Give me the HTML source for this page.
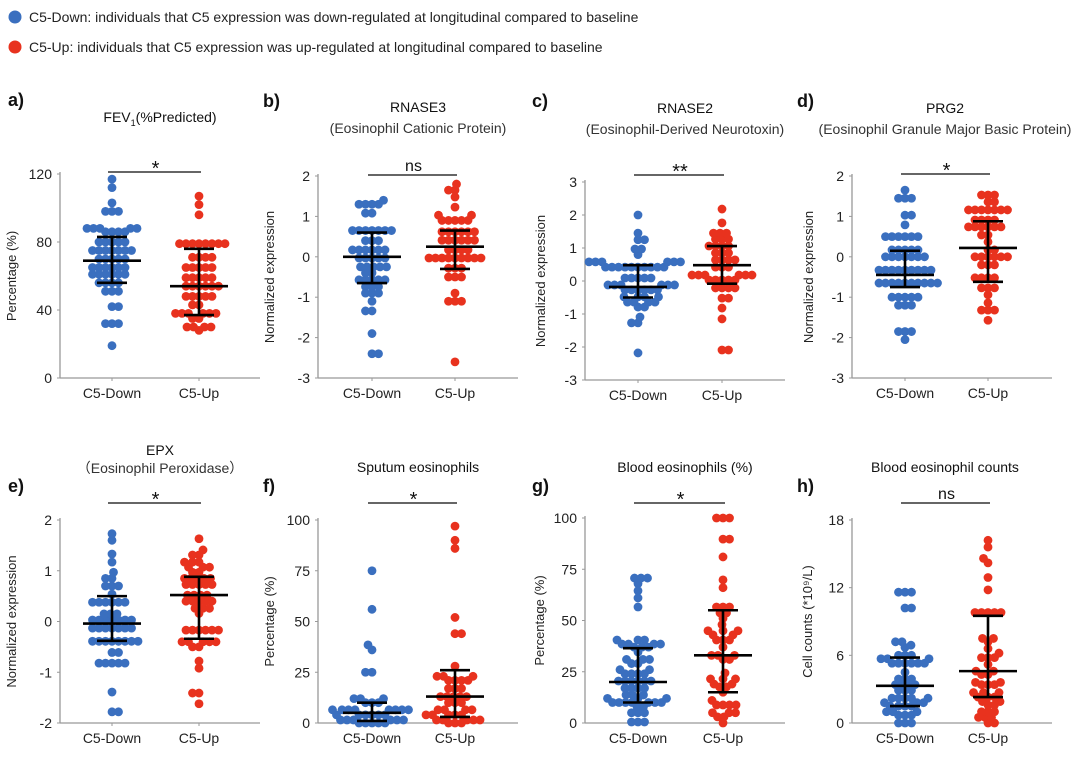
<!DOCTYPE html>
<html><head><meta charset="utf-8"><style>
body{margin:0;background:#fff}
svg{display:block;font-family:"Liberation Sans",sans-serif}
</style></head><body>
<svg id="fig" width="1080" height="764" viewBox="0 0 1080 764">
<g>
<circle cx="15" cy="17" r="6.5" fill="#3a6fbf"/>
<text x="29" y="22" font-size="14" fill="#222">C5-Down: individuals that C5 expression was down-regulated at longitudinal compared to baseline</text>
<circle cx="15" cy="47" r="6.5" fill="#e8321e"/>
<text x="29" y="52" font-size="14" fill="#222">C5-Up: individuals that C5 expression was up-regulated at longitudinal compared to baseline</text>
</g>
</svg>
<script>
function rep(pairs){var o=[];for(var i=0;i<pairs.length;i+=2)for(var k=0;k<pairs[i+1];k++)o.push(pairs[i]);return o;}
// ---- data (value, count) ----
var aDown=rep([103,1,112,1,117,1,98,3,88,5,86,4,80,5,75,7,70,5,65,6,61,6,56,4,51,3,42,2,32,3,19,1]);
var aUp=rep([107,1,102,1,96,1,79,8,71,4,65,5,59,5,54,6,48,5,43,2,38,6,35,2,30,4,28,1]);
var bDown=rep([1.4,1,1.3,4,1.08,2,0.65,7,0.4,3,0.17,6,-0.03,5,-0.25,5,-0.4,2,-0.57,5,-0.74,3,-0.9,3,-1.1,1,-1.34,2,-1.9,1,-2.4,2]);
var bUp=rep([1.8,1,1.65,2,1.48,1,1.23,1,1.03,2,0.9,5,0.62,6,0.41,6,0.17,4,-0.03,9,-0.28,3,-0.5,3,-0.9,1,-1.1,3,-2.6,1]);
var cDown=rep([2.0,1,1.45,1,1.25,2,0.97,2,0.8,1,0.58,6,0.42,10,0.09,5,-0.12,6,-0.27,6,-0.48,4,-0.64,4,-0.79,2,-1.09,1,-1.27,2,-2.18,1]);
var cUp=rep([2.18,1,1.76,1,1.45,3,1.27,3,1.06,4,0.85,3,0.64,4,0.42,3,0.18,6,0.03,5,-0.21,4,-0.52,2,-0.82,1,-1.15,1,-2.09,2]);
var dDown=rep([1.65,1,1.45,3,1.03,2,0.79,1,0.5,6,0.17,5,0,7,-0.33,9,-0.65,10,-1.0,5,-1.2,3,-1.85,3,-2.05,1]);
var dUp=rep([1.53,3,1.36,2,1.16,7,0.91,4,0.74,6,0.54,2,0.37,1,0.17,2,0,6,-0.2,3,-0.52,4,-0.77,3,-0.94,1,-1.14,1,-1.32,3,-1.57,1]);
var eDown=rep([1.73,1,1.6,1,1.33,1,1.17,1,0.97,1,0.85,2,0.7,3,0.54,1,0.38,6,0.15,3,0.03,7,-0.13,7,-0.39,8,-0.61,2,-0.82,5,-1.39,1,-1.78,2]);
var eUp=rep([1.63,1,1.41,1,1.31,2,1.17,3,1.07,3,0.97,2,0.85,5,0.73,5,0.52,4,0.4,5,0.26,3,0.16,1,-0.17,6,-0.4,5,-0.5,2,-0.78,1,-0.92,1,-1.41,2,-1.62,1]);
var fDown=rep([75,1,56,1,38.5,1,36,1,25,2,12,3,10,3,6.5,8,4,6,1.5,6,0,5]);
var fUp=rep([97,1,90,1,86,1,52,1,44,2,28,1,23,3,21,4,17,3,13,5,10,3,6.5,4,4,5,1.5,5,0,3]);
var gDown=rep([70.7,3,68,1,64.5,1,61,1,56.6,1,40.5,3,38.5,4,37,3,34.6,1,31,3,29,2,26,2,24,4,20.5,6,17,4,13.7,3,12,3,10,7,8,2,5,3,0.5,3]);
var gUp=rep([100,3,89.7,2,81,1,69.8,1,66,1,56.6,3,53.7,2,51,1,48,1,45,3,43,2,40.5,3,37,1,33,3,31,2,24.4,1,21.5,3,19,2,17.6,2,15,1,11,1,8.8,4,5,3,3,2,0,1]);
var hDown=rep([11.6,3,10.2,2,7.2,2,6.9,1,6.7,1,6.0,3,5.7,3,5.3,6,4.5,1,3.9,3,3.4,4,2.9,3,2.2,5,1.8,3,1.5,4,1.0,3,0.7,3,0,3]);
var hUp=rep([16.2,1,15.6,1,14.6,1,14.2,1,12.9,1,11.8,1,9.8,5,7.5,2,7.2,1,6.6,1,6.2,1,5.8,3,5.2,1,4.6,2,4.3,2,3.6,2,3.4,3,2.7,3,2.3,3,1.9,2,1.6,2,1.0,3,0.5,3,0,2]);
// stats: [q1, median, q3]
var aStats=[[56,69,83],[37,54,76]];
var bStats=[[-0.65,0,0.6],[-0.3,0.25,0.65]];
var cStats=[[-0.5,-0.18,0.48],[-0.08,0.48,1.06]];
var dStats=[[-0.75,-0.45,0.15],[-0.62,0.22,0.88]];
var eStats=[[-0.38,-0.04,0.5],[-0.34,0.52,0.88]];
var fStats=[[1,5,10],[3,13,26]];
var gStats=[[10,20,36.5],[15,33,55]];
var hStats=[[1.5,3.3,5.8],[2.3,4.6,9.5]];
var aTicks=[0,40,80,120], bTicks=[-3,-2,-1,0,1,2], cTicks=[-3,-2,-1,0,1,2,3], dTicks=[-3,-2,-1,0,1,2];
var eTicks=[-2,-1,0,1,2], fTicks=[0,25,50,75,100], gTicks=[0,25,50,75,100], hTicks=[0,6,12,18];
var groups=["C5-Down","C5-Up"];

var NS="http://www.w3.org/2000/svg", svg=document.getElementById('fig');
function mk(tag,attrs,parent,txt){var e=document.createElementNS(NS,tag);for(var k in attrs)e.setAttribute(k,attrs[k]);if(txt!==undefined)e.textContent=txt;(parent||svg).appendChild(e);return e;}

var panels=[
 {id:'a',down:aDown,up:aUp,st:aStats,ticks:aTicks,ax:60,y0:378,y1:174,c1:112,c2:199,letter:'a)',lx:8,ly:106,t1:'FEV',t1y:122,tc:160,ylab:'Percentage (%)',ylx:16,sig:'*',sigy:172,fev:true},
 {id:'b',down:bDown,up:bUp,st:bStats,ticks:bTicks,ax:318,y0:378,y1:176,c1:372,c2:455,letter:'b)',lx:263,ly:107,t1:'RNASE3',t1y:112,t2:'(Eosinophil Cationic Protein)',t2y:133,tc:418,ylab:'Normalized expression',ylx:274,sig:'ns',sigy:175},
 {id:'c',down:cDown,up:cUp,st:cStats,ticks:cTicks,ax:585,y0:380,y1:182,c1:638,c2:722,letter:'c)',lx:532,ly:107,t1:'RNASE2',t1y:113,t2:'(Eosinophil-Derived Neurotoxin)',t2y:134,tc:685,ylab:'Normalized expression',ylx:545,sig:'**',sigy:175},
 {id:'d',down:dDown,up:dUp,st:dStats,ticks:dTicks,ax:852,y0:378,y1:176,c1:905,c2:988,letter:'d)',lx:797,ly:107,t1:'PRG2',t1y:113,t2:'(Eosinophil Granule Major Basic Protein)',t2y:134,tc:945,ylab:'Normalized expression',ylx:813,sig:'*',sigy:174},
 {id:'e',down:eDown,up:eUp,st:eStats,ticks:eTicks,ax:60,y0:723,y1:520,c1:112,c2:199,letter:'e)',lx:8,ly:492,t1:'EPX',t1y:455,t2:'\uFF08Eosinophil Peroxidase\uFF09',t2y:473,tc:160,ylab:'Normalized expression',ylx:16,sig:'*',sigy:503},
 {id:'f',down:fDown,up:fUp,st:fStats,ticks:fTicks,ax:318,y0:723,y1:520,c1:372,c2:455,letter:'f)',lx:263,ly:492,t1:'Sputum eosinophils',t1y:472,tc:418,ylab:'Percentage (%)',ylx:274,sig:'*',sigy:503},
 {id:'g',down:gDown,up:gUp,st:gStats,ticks:gTicks,ax:585,y0:723,y1:518,c1:638,c2:723,letter:'g)',lx:532,ly:492,t1:'Blood eosinophils (%)',t1y:472,tc:685,ylab:'Percentage (%)',ylx:544,sig:'*',sigy:503},
 {id:'h',down:hDown,up:hUp,st:hStats,ticks:hTicks,ax:852,y0:723,y1:520,c1:905,c2:988,letter:'h)',lx:797,ly:492,t1:'Blood eosinophil counts',t1y:472,tc:945,ylab:'Cell counts (*10\u2079/L)',ylx:812,sig:'ns',sigy:503}
];
var R=4.4, MIND=6.2;
function swarm(vals,cx,yf,parent,color,name){
  var sorted=vals.slice().sort(function(a,b){return a-b;}), placed=[];
  sorted.forEach(function(v){
    var y=yf(v), best=0;
    for(var s=0;s<80;s+=0.5){
      var ok=false, cands=(placed.length%2)?[s,-s]:[-s,s];
      for(var ci=0;ci<2;ci++){
        var x=cands[ci], clash=false;
        for(var j=0;j<placed.length;j++){var dx=placed[j][0]-x,dy=placed[j][1]-y;if(dx*dx+dy*dy<MIND*MIND){clash=true;break;}}
        if(!clash){best=x;ok=true;break;}
      }
      if(ok)break;
    }
    placed.push([best,y]);
    var c=mk('circle',{cx:cx+best,cy:y,r:R,fill:color},parent);
    
    
  });
}
panels.forEach(function(p){
  var g=mk('g',{});
  
  
  var lo=p.ticks[0], hi=p.ticks[p.ticks.length-1];
  var yf=function(v){return p.y0+(v-lo)/(hi-lo)*(p.y1-p.y0);};
  var L=mk('text',{x:p.lx,y:p.ly,'font-size':18,'font-weight':'bold',fill:'#111'},g,p.letter);
  
  
  var T=mk('text',{x:p.tc,y:p.t1y,'font-size':14,'text-anchor':'middle',fill:'#111'},g,p.t1);
  
  
  if(p.fev){T.textContent='';mk('tspan',{},T,'FEV');mk('tspan',{'font-size':9,dy:4},T,'1');mk('tspan',{dy:-4},T,'(%Predicted)');}
  if(p.t2){var T2=mk('text',{x:p.tc,y:p.t2y,'font-size':14,'text-anchor':'middle',fill:'#333'},g,p.t2);
    
    }
  var ya=mk('line',{x1:p.ax,y1:p.y1-2,x2:p.ax,y2:p.y0,stroke:'#999','stroke-width':1.3},g);
  
  
  var xa=mk('line',{x1:p.ax,y1:p.y0,x2:p.ax+200,y2:p.y0,stroke:'#999','stroke-width':1.3},g);
  
  
  p.ticks.forEach(function(t){
    var y=yf(t);
    mk('line',{x1:p.ax-3,y1:y,x2:p.ax,y2:y,stroke:'#999'},g);
    var tl=mk('text',{x:p.ax-8,y:y+5,'font-size':14,'text-anchor':'end',fill:'#222'},g,String(t));
    
    
  });
  var yl=mk('text',{x:0,y:0,'font-size':13,'text-anchor':'middle',fill:'#222',transform:'translate('+p.ylx+','+((p.y0+p.y1)/2)+') rotate(-90)'},g,p.ylab);
  
  
  [p.c1,p.c2].forEach(function(cx,i){
    mk('line',{x1:cx,y1:p.y0,x2:cx,y2:p.y0+3,stroke:'#999'},g);
    var xl=mk('text',{x:cx,y:p.y0+20,'font-size':14,'text-anchor':'middle',fill:'#222'},g,groups[i]);
    
    
  });
  var sl=mk('line',{x1:p.c1-4,y1:p.sigy,x2:p.c2+2,y2:p.sigy,stroke:'#333','stroke-width':1.4},g);
  
  
  var st=mk('text',{x:(p.c1+p.c2)/2,y:p.sig==='ns'?p.sigy-4:p.sigy+3,'font-size':p.sig==='ns'?16:20,'text-anchor':'middle',fill:'#111'},g,p.sig);
  
  
  swarm(p.down,p.c1,yf,g,'#3a6fbf','point-c5-down');
  swarm(p.up,p.c2,yf,g,'#e8321e','point-c5-up');
  [p.c1,p.c2].forEach(function(cx,i){
    var s=p.st[i], eg=mk('g',{stroke:'#000','stroke-width':2.6},g);
    
    
    mk('line',{x1:cx,y1:yf(s[0]),x2:cx,y2:yf(s[2])},eg);
    mk('line',{x1:cx-29,y1:yf(s[1]),x2:cx+29,y2:yf(s[1])},eg);
    mk('line',{x1:cx-15,y1:yf(s[0]),x2:cx+15,y2:yf(s[0])},eg);
    mk('line',{x1:cx-15,y1:yf(s[2]),x2:cx+15,y2:yf(s[2])},eg);
  });
});
</script>
</body></html>
